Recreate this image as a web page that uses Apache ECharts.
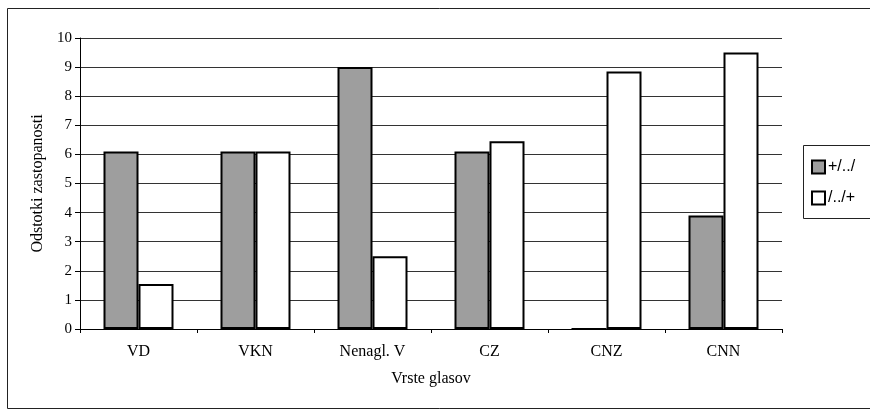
<!DOCTYPE html>
<html>
<head>
<meta charset="utf-8">
<script src="https://cdn.jsdelivr.net/npm/echarts@6/dist/echarts.min.js"></script>
<style>
html, body { margin: 0; padding: 0; background: #fff; }
#chart { width: 870px; height: 410px; }
</style>
</head>
<body>
<div id="chart"></div>
<script>
var categories = ['VD', 'VKN', 'Nenagl. V', 'CZ', 'CNZ', 'CNN'];
var seriesNames = ['+/../', '/../+'];
var plusFirst = [6.1, 6.1, 9.0, 6.1, 0, 3.9];
var plusLast = [1.55, 6.1, 2.5, 6.45, 8.85, 9.5];
var yTicks = [0, 1, 2, 3, 4, 5, 6, 7, 8, 9, 10];

var chart = echarts.init(document.getElementById('chart'));
var serif = 'Liberation Serif';

var option = {
    backgroundColor: '#fff',
    animation: false,
    graphic: [{
        type: 'rect',
        shape: { x: 7.5, y: 8.5, width: 900, height: 400 },
        style: { fill: 'none', stroke: '#222', lineWidth: 1 },
        silent: true
    }, {
        type: 'rect',
        shape: { x: 803.5, y: 145.5, width: 100, height: 73 },
        style: { fill: '#fff', stroke: '#222', lineWidth: 1 },
        silent: true
    }],
    legend: {
        orient: 'vertical',
        left: 806,
        top: 154,
        itemWidth: 13,
        itemHeight: 13,
        itemGap: 15,
        icon: 'rect',
        data: seriesNames,
        textStyle: { fontFamily: 'Liberation Sans', fontSize: 16, color: '#000', padding: [0, 0, 0, -2] }
    },
    grid: { left: 80, right: 88, top: 38, bottom: 81 },
    xAxis: {
        type: 'category',
        data: categories,
        name: 'Vrste glasov',
        nameLocation: 'middle',
        nameGap: 42,
        nameTextStyle: { fontFamily: serif, fontSize: 16, color: '#000' },
        axisLine: { lineStyle: { color: '#000', width: 1 } },
        axisTick: { show: true, inside: false, length: 4, lineStyle: { color: '#000' } },
        axisLabel: { fontFamily: serif, fontSize: 16, color: '#000', margin: 15 }
    },
    yAxis: {
        type: 'value',
        min: yTicks[0],
        max: yTicks[yTicks.length - 1],
        interval: 1,
        name: 'Odstotki zastopanosti',
        nameLocation: 'middle',
        nameGap: 29,
        nameTextStyle: { fontFamily: serif, fontSize: 16, color: '#000' },
        axisLine: { show: true, lineStyle: { color: '#000', width: 1 } },
        axisTick: { show: true, length: 5, lineStyle: { color: '#000' } },
        axisLabel: { fontFamily: serif, fontSize: 15, color: '#000', margin: 8 },
        splitLine: { show: true, lineStyle: { color: '#333', width: 1 } }
    },
    series: [{
        name: seriesNames[0],
        type: 'bar',
        data: plusFirst,
        barWidth: 35,
        barGap: '0%',
        itemStyle: { color: '#9e9e9e', borderColor: '#000', borderWidth: 2 }
    }, {
        name: seriesNames[1],
        type: 'bar',
        data: plusLast,
        barWidth: 35,
        itemStyle: { color: '#fff', borderColor: '#000', borderWidth: 2 }
    }]
};

chart.setOption(option);
</script>
</body>
</html>
